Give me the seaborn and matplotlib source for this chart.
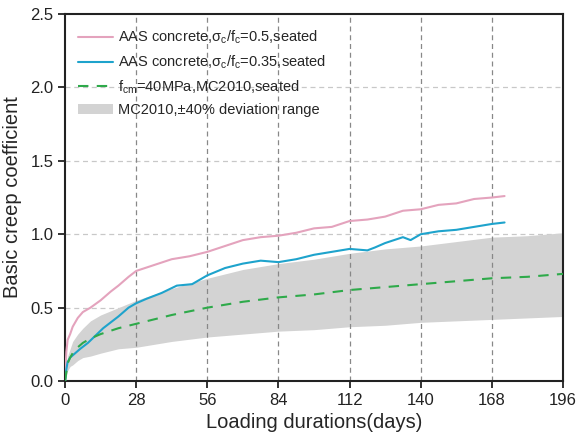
import numpy as np
import pandas as pd
import matplotlib
matplotlib.use("Agg")
import matplotlib.pyplot as plt
import seaborn as sns

# ---- data ----
pink_days = [0, 0.5, 1, 2, 3, 5, 7, 10, 14, 18, 21, 25, 28, 35, 42, 49, 56, 63, 70, 77, 84,
             91, 98, 105, 112, 119, 126, 133, 140, 147, 154, 161, 168, 173]
pink_vals = [0, 0.20, 0.28, 0.32, 0.37, 0.43, 0.47, 0.50, 0.55, 0.61, 0.65, 0.71, 0.75, 0.79,
             0.83, 0.85, 0.88, 0.92, 0.96, 0.98, 0.99, 1.01, 1.04, 1.05, 1.09, 1.10, 1.12,
             1.16, 1.17, 1.20, 1.21, 1.24, 1.25, 1.26]

blue_days = [0, 0.5, 1, 2, 4, 6, 9, 12, 15, 18, 21, 25, 28, 32, 38, 44, 50, 56, 63, 70, 77,
             84, 91, 98, 105, 112, 119, 122, 126, 133, 136, 140, 147, 154, 161, 168, 173]
blue_vals = [0, 0.08, 0.13, 0.16, 0.19, 0.22, 0.26, 0.31, 0.36, 0.40, 0.44, 0.50, 0.53, 0.56,
             0.60, 0.65, 0.66, 0.72, 0.77, 0.80, 0.82, 0.81, 0.83, 0.86, 0.88, 0.90, 0.89,
             0.91, 0.94, 0.98, 0.96, 1.00, 1.02, 1.03, 1.05, 1.07, 1.08]

mc_days = [0, 1, 2, 3, 5, 7, 10, 14, 21, 28, 42, 56, 70, 84, 98, 112, 126, 140, 154, 168, 182, 196]
mc_vals = [0, 0.12, 0.16, 0.19, 0.23, 0.26, 0.29, 0.32, 0.36, 0.39, 0.45, 0.50, 0.54, 0.57,
           0.59, 0.62, 0.64, 0.66, 0.68, 0.70, 0.71, 0.73]
band_upper = [0, 0.17, 0.22, 0.27, 0.32, 0.36, 0.41, 0.45, 0.50, 0.55, 0.63, 0.70, 0.76, 0.80,
              0.83, 0.87, 0.90, 0.92, 0.95, 0.98, 0.99, 1.01]
band_lower = [0, 0.07, 0.10, 0.11, 0.14, 0.16, 0.17, 0.19, 0.22, 0.23, 0.27, 0.30, 0.32, 0.34,
              0.35, 0.37, 0.38, 0.40, 0.41, 0.42, 0.43, 0.44]

x_ticks = [0, 28, 56, 84, 112, 140, 168, 196]
y_ticks = [0.0, 0.5, 1.0, 1.5, 2.0, 2.5]

labels = [r'AAS concrete,$\mathregular{\sigma_c}$/$\mathregular{f_c}$=0.5,seated',
          r'AAS concrete,$\mathregular{\sigma_c}$/$\mathregular{f_c}$=0.35,seated',
          r'$\mathregular{f_{cm}}$=40MPa,MC2010,seated',
          'MC2010,±40% deviation range']

sns.set_style("white")
plt.rcParams['font.family'] = ['Liberation Sans', 'DejaVu Sans']
plt.rcParams['mathtext.fontset'] = 'custom'
plt.rcParams['mathtext.rm'] = 'Liberation Sans'

fig, ax = plt.subplots(figsize=(5.81, 4.37), dpi=100)
fig.subplots_adjust(left=0.112, right=0.969, top=0.968, bottom=0.128)

ax.fill_between(mc_days, band_lower, band_upper, color='#d3d3d3', linewidth=0, zorder=1,
                label=labels[3])
sns.lineplot(x=pink_days, y=pink_vals, ax=ax, color='#e4a3bd', linewidth=1.5, label=labels[0], zorder=3)
sns.lineplot(x=blue_days, y=blue_vals, ax=ax, color='#1ea3cc', linewidth=1.5, label=labels[1], zorder=3)
sns.lineplot(x=mc_days, y=mc_vals, ax=ax, color='#2eaa4a', linewidth=1.5, linestyle=(0, (5, 4)),
             label=labels[2], zorder=3)

ax.set_xlim(0, 196)
ax.set_ylim(0, 2.5)
ax.set_xticks(x_ticks)
ax.set_yticks(y_ticks)
ax.set_yticklabels([f'{v:.1f}' for v in y_ticks])

for xv in x_ticks[1:-1]:
    ax.axvline(xv, color='#888888', linestyle=(0, (4, 3)), linewidth=0.9, zorder=2)
for yv in y_ticks[1:-1]:
    ax.axhline(yv, color='#c8c8c8', linestyle=(0, (4, 3)), linewidth=0.9, zorder=0.5)

for s in ax.spines.values():
    s.set_visible(True)
    s.set_color('#222222')
    s.set_linewidth(1.5)
ax.tick_params(axis='both', direction='out', length=5, width=1.3, labelsize=12, colors='#222222',
               bottom=True, left=True)
ax.set_xlabel('Loading durations(days)', fontsize=14.5, labelpad=4)
ax.set_ylabel('Basic creep coefficient', fontsize=14.5, labelpad=6)

handles, labs = ax.get_legend_handles_labels()
order = [labs.index(l) for l in labels]
ax.legend([handles[i] for i in order], [labs[i] for i in order], loc='upper left',
          frameon=False, fontsize=10.5, bbox_to_anchor=(0.0, 0.995), handlelength=2.4,
          labelspacing=0.5, handletextpad=0.3)

fig.savefig('out.png', dpi=100)
